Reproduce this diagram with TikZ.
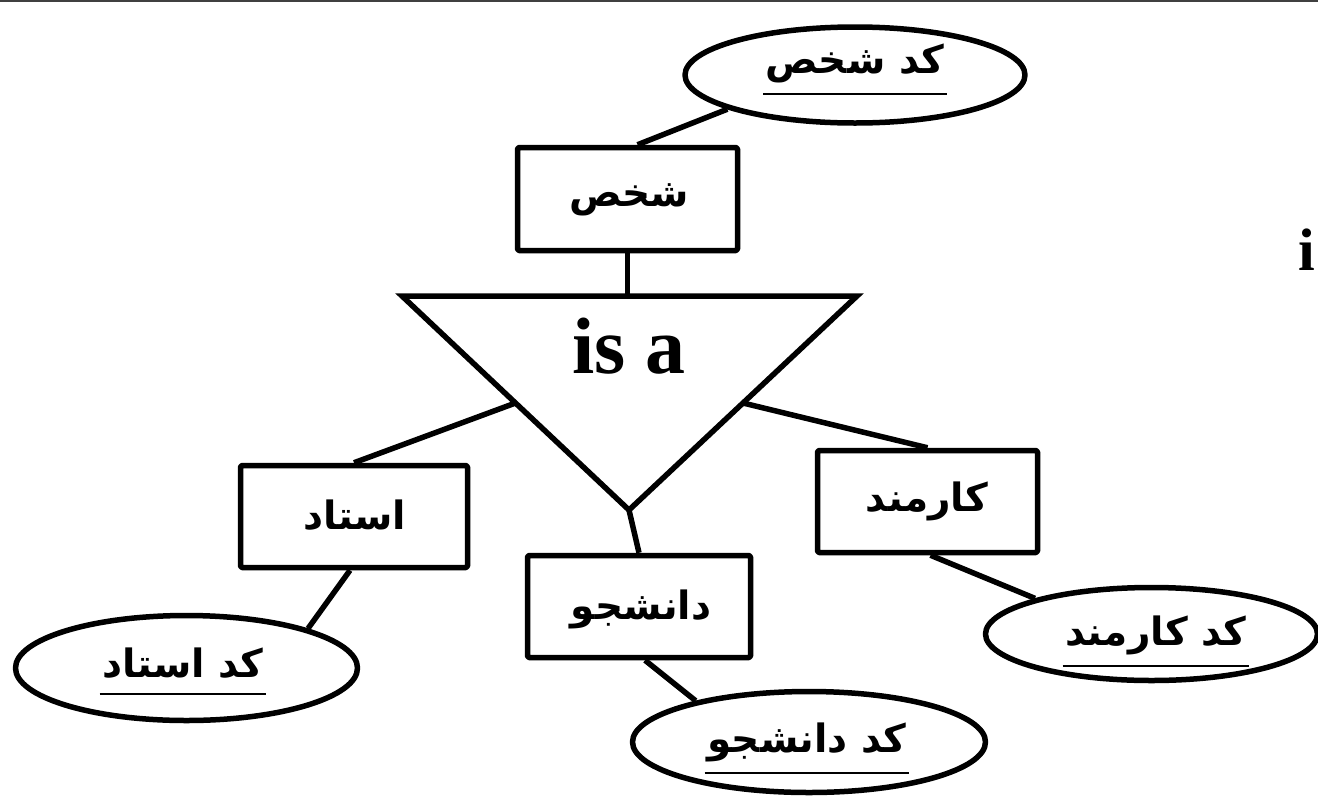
\documentclass[tikz,border=0pt]{standalone}
\usepackage{fontspec}
\setmainfont{Liberation Serif}
\newfontfamily\arfont[Script=Arabic]{DejaVu Sans}
\TeXXeTstate=1
\usetikzlibrary{calc,shapes.geometric}
\newcommand{\fa}[1]{{\arfont\bfseries\beginR #1\endR}}

\begin{document}
\begin{tikzpicture}[x=1pt,y=-1pt,
  line width=5.5pt, line join=round,
  entity/.style={draw, rectangle, rounded corners=1.5pt, inner sep=0pt},
  attr/.style={draw, ellipse, inner sep=0pt},
  falbl/.style={inner sep=0pt, font=\fontsize{39}{42}\selectfont},
  uline/.style={line width=2.5pt, line cap=butt},
  link/.style={line width=5.5pt}]

\useasboundingbox (0,0) rectangle (1318,796);
\draw[line width=2pt, black!75] (0,1) -- (1318,1);

% entities
\node[entity, minimum width=220pt, minimum height=103pt] (shakhs) at (627.5,199) {};
\node[falbl] at (629,200) {\fa{شخص}};
\node[entity, minimum width=227pt, minimum height=102pt] (ostad) at (354,516.5) {};
\node[falbl] at (355,515) {\fa{استاد}};
\node[entity, minimum width=223pt, minimum height=102pt] (daneshjoo) at (639,606.5) {};
\node[falbl] at (641,609) {\fa{دانشجو}};
\node[entity, minimum width=220pt, minimum height=102pt] (karmand) at (927.5,501.5) {};
\node[falbl] at (927,501) {\fa{کارمند}};

% key attributes
\node[attr, minimum width=340pt, minimum height=96pt] (e1) at (855,75) {};
\node[falbl] (t1) at (855,63) {\fa{کد شخص}};
\node[attr, minimum width=342pt, minimum height=105pt] (e4) at (186.5,668) {};
\node[falbl] (t4) at (183,663) {\fa{کد استاد}};
\node[attr, minimum width=353pt, minimum height=101pt] (e3) at (809,742) {};
\node[falbl] (t3) at (807,742) {\fa{کد دانشجو}};
\node[attr, minimum width=332pt, minimum height=93pt] (e2) at (1151.5,634) {};
\node[falbl] (t2) at (1156,635) {\fa{کد کارمند}};

\foreach \t in {t1,t2,t3,t4}
  \draw[uline] ([yshift=-31pt]\t.west) -- ([yshift=-31pt]\t.east);

% isa triangle
\coordinate (tl) at (402,296);
\coordinate (tr) at (857,296);
\coordinate (tb) at (629,510);
\draw[line join=miter] (tl) -- (tr) -- (tb) -- cycle;
\node[anchor=base, inner sep=0pt, font=\fontsize{80}{80}\selectfont\bfseries] (isa) at (629,373) {is a};
\node[anchor=base east, inner sep=0pt, font=\fontsize{60}{60}\selectfont\bfseries] (isa2) at (1318,270) {i};

% connectors
\draw[link] (e1.195) -- ($(shakhs.north)+(10,0)$);
\draw[link] (shakhs.south) -- (shakhs.south |- tl);
\draw[link] ($(tl)!0.5!(tb)$) -- (ostad.north);
\draw[link] (tb) -- (daneshjoo.north);
\draw[link] ($(tr)!0.5!(tb)$) -- (karmand.north);
\draw[link] ($(ostad.south)+(-4,0)$) -- (e4.18);
\draw[link] ($(daneshjoo.south)+(6,0)$) -- (e3.160);
\draw[link] ($(karmand.south)+(3,0)$) -- (e2.163);
\end{tikzpicture}
\end{document}
